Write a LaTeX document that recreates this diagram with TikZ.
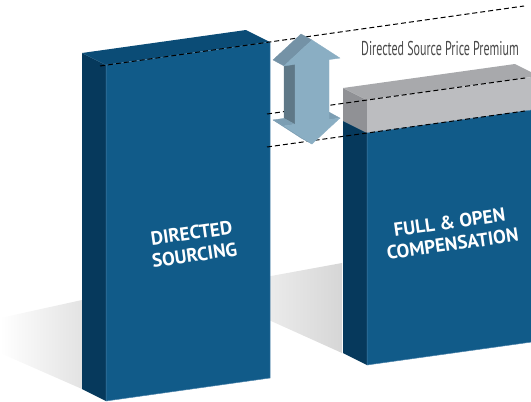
\documentclass[tikz,border=0pt]{standalone}
\usepackage{fontspec}
\setmainfont{PT Sans}
\newfontfamily\boxfont{PT Sans}
\newfontfamily\notefont[FakeStretch=0.6]{PT Sans}
\usetikzlibrary{calc}

\definecolor{blockfront}{HTML}{115B89}
\definecolor{blockside}{HTML}{06395C}
\definecolor{blocktop}{HTML}{0B4C76}
\definecolor{blockedge}{HTML}{4A82AA}
\definecolor{capfront}{HTML}{BCBDC0}
\definecolor{capside}{HTML}{909195}
\definecolor{captop}{HTML}{A8A9AC}
\definecolor{arrowfront}{HTML}{8AAEC3}
\definecolor{arrowtop}{HTML}{7492A6}
\definecolor{arrowside}{HTML}{5F7887}
\definecolor{arrowbase}{HTML}{7C9EB3}
\definecolor{notegray}{HTML}{4A4A4A}

\tikzset{
  level/.style={draw=black,line width=1pt,dash pattern=on 5pt off 3pt},
  boxlabel/.style={text=white,align=center,rotate=8,
    font=\boxfont\bfseries\fontsize{19}{22}\selectfont},
  face/.style={draw=#1,line width=0.3pt,fill=#1}
}

\begin{document}
\begin{tikzpicture}[x=1pt,y=-1pt]
  \useasboundingbox (0,0) rectangle (531,402);
  \clip (0,0) rectangle (531,402);

  % floor shadows
  \shade[left color=white,right color=black!11] (82,300) -- (0,318) -- (0,353) -- (82,389) -- cycle;
  \shade[left color=white,right color=black!16] (342,263) -- (200,289) -- (342,353) -- cycle;

  % directed sourcing block
  \fill[blockside] (82,53) -- (106,65) -- (106,401) -- (82,389) -- cycle;
  \fill[blocktop] (82,53) -- (246,30) -- (270,42) -- (106,65) -- cycle;
  \filldraw[fill=blockfront,draw=blockedge,line width=0.5pt]
    (106,65) -- (270,42) -- (270,378) -- (106,401) -- cycle;

  % full and open block, grey cap on top
  \fill[capside] (343,88) -- (367,100) -- (367,133) -- (343,121) -- cycle;
  \fill[captop] (343,88) -- (515,64) -- (539,76) -- (367,100) -- cycle;
  \fill[capfront] (367,100) -- (539,76) -- (539,109) -- (367,133) -- cycle;
  \fill[blockside] (343,121) -- (367,133) -- (367,365) -- (343,353) -- cycle;
  \filldraw[fill=blockfront,draw=blockedge,line width=0.5pt]
    (367,133) -- (539,109) -- (539,341) -- (367,365) -- cycle;

  \node[boxlabel] (directed) at (193,244) {DIRECTED\\SOURCING};
  \node[boxlabel] (fullopen) at (451,233) {FULL \& OPEN\\COMPENSATION};

  % price levels
  \coordinate (top west) at (100,66);
  \coordinate (top east) at (524,6);
  \coordinate (cap west) at (267,114);
  \coordinate (cap east) at (525,78);
  \coordinate (base west) at (267,147);
  \coordinate (base east) at (525,111);
  \draw[level] (top west) -- (top east);
  \draw[level] (cap west) -- (cap east);
  \draw[level] (base west) -- (base east);

  \node[text=notegray,font=\notefont\fontsize{20}{22}\selectfont] (premium) at (440,48)
    {Directed Source Price Premium};

  % double arrow
  \begin{scope}[shift={(312,0)},yslant=0.14]
    \coordinate (tip) at (0,40);
    \coordinate (hl) at (-28,62);
    \coordinate (slt) at (-17,62);
    \coordinate (slb) at (-17,122);
    \coordinate (bhl) at (-28,122);
    \coordinate (btip) at (0,144);
    \coordinate (bhr) at (28,122);
    \coordinate (srb) at (17,122);
    \coordinate (srt) at (17,62);
    \coordinate (hr) at (28,62);
  \end{scope}
  \foreach \c in {tip,hl,slt,slb,bhl,btip,srb,bhr}
    \coordinate (\c b) at ($(\c)+(-11,-6)$);
  \fill[face=arrowside] (slt) -- (slb) -- (slbb) -- (sltb) -- cycle;
  \fill[face=arrowbase] (slb) -- (bhl) -- (bhlb) -- (slbb) -- cycle;
  \fill[face=arrowbase] (bhl) -- (btip) -- (btipb) -- (bhlb) -- cycle;
  \fill[face=arrowbase] (srb) -- (bhr) -- (bhrb) -- (srbb) -- cycle;
  \fill[face=arrowtop] (hl) -- (tip) -- (tipb) -- (hlb) -- cycle;
  \fill[face=arrowfront] (tip) -- (hr) -- (srt) -- (srb) -- (bhr) -- (btip)
    -- (bhl) -- (slb) -- (slt) -- (hl) -- cycle;
\end{tikzpicture}
\end{document}
